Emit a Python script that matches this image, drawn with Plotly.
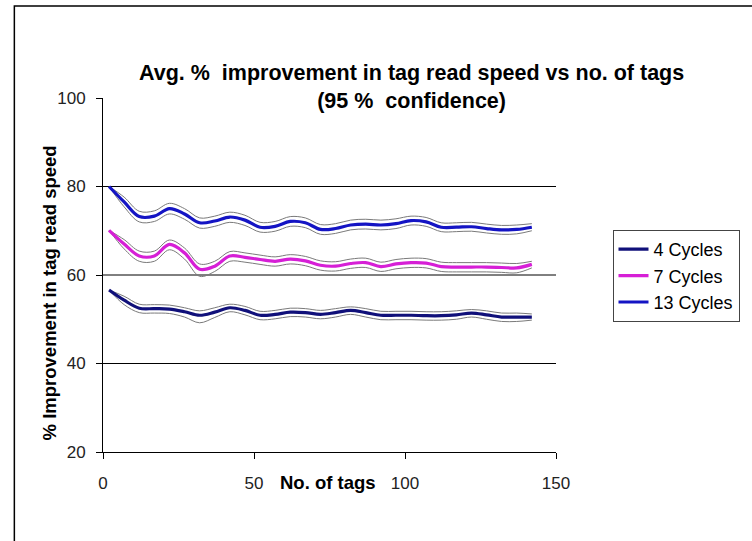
import plotly.graph_objects as go

# ---- data ----
tags = [2, 7, 12, 17, 22, 27, 32, 37, 42, 47, 52, 57, 62, 67, 72, 77, 82, 87, 92, 97,
        102, 107, 112, 117, 122, 127, 132, 137, 142]

c4 = [56.6, 54.3, 52.5, 52.4, 52.3, 51.7, 50.9, 51.6, 52.6, 52.0, 50.9, 51.1, 51.6, 51.5,
      51.1, 51.5, 52.0, 51.5, 50.9, 50.9, 50.9, 50.8, 50.8, 51.0, 51.4, 51.0, 50.5, 50.5, 50.5]
c4_hi = [56.6, 55.2, 53.4, 53.3, 53.2, 52.6, 51.9, 52.6, 53.4, 52.9, 51.8, 52.0, 52.5, 52.4,
         52.0, 52.4, 52.8, 52.4, 51.8, 51.8, 51.8, 51.7, 51.7, 51.9, 52.2, 51.9, 51.4, 51.4, 51.2]
c4_lo = [56.6, 53.3, 51.5, 51.4, 51.3, 50.5, 49.2, 50.4, 51.7, 51.0, 49.9, 50.1, 50.6, 50.5,
         50.1, 50.5, 51.1, 50.5, 49.9, 49.9, 49.9, 49.8, 49.8, 50.0, 50.5, 50.0, 49.5, 49.5, 49.8]

c7 = [70.1, 67.0, 64.3, 64.3, 66.9, 65.0, 61.3, 62.0, 64.3, 64.0, 63.5, 63.1, 63.6, 63.2,
      62.2, 62.0, 62.6, 62.8, 61.9, 62.5, 62.8, 62.7, 61.9, 61.8, 61.8, 61.8, 61.7, 61.6, 62.4]
c7_hi = [70.1, 68.0, 65.4, 65.4, 67.9, 66.1, 62.5, 63.1, 65.3, 65.0, 64.5, 64.1, 64.6, 64.2,
         63.2, 63.0, 63.6, 63.8, 62.9, 63.5, 63.8, 63.7, 62.9, 62.8, 62.8, 62.8, 62.7, 62.6, 63.1]
c7_lo = [70.1, 65.9, 63.1, 63.1, 65.7, 63.6, 59.7, 60.8, 63.1, 62.9, 62.4, 62.0, 62.5, 62.1,
         61.1, 60.9, 61.5, 61.7, 60.8, 61.4, 61.7, 61.6, 60.8, 60.7, 60.7, 60.7, 60.6, 60.5, 61.6]

c13 = [80.0, 76.5, 73.2, 73.3, 75.0, 73.8, 71.8, 72.2, 73.1, 72.4, 70.8, 71.0, 72.1, 71.8,
       70.3, 70.5, 71.3, 71.5, 71.3, 71.6, 72.3, 72.0, 70.8, 70.8, 70.9, 70.5, 70.2, 70.3, 70.8]
c13_hi = [80.0, 77.6, 74.4, 74.5, 76.2, 75.0, 72.9, 73.3, 74.2, 73.5, 71.9, 72.1, 73.2, 72.9,
          71.4, 71.6, 72.4, 72.6, 72.4, 72.7, 73.3, 73.0, 71.8, 71.8, 71.9, 71.5, 71.2, 71.3, 71.6]
c13_lo = [80.0, 75.4, 72.0, 72.1, 73.8, 72.6, 70.6, 71.0, 71.9, 71.2, 69.7, 69.9, 71.0, 70.7,
          69.2, 69.4, 70.2, 70.4, 70.2, 70.5, 71.3, 71.0, 69.8, 69.8, 69.9, 69.5, 69.2, 69.3, 70.0]

series_names = ["4 Cycles", "7 Cycles", "13 Cycles"]
series_colors = ["#10107a", "#d61fd6", "#1414c4"]

x_ticks = [0, 50, 100, 150]
y_ticks = [20, 40, 60, 80, 100]
grid_values = [40, 60, 80]

title_line1 = "Avg. %\u00a0 improvement in tag read speed vs no. of tags"
title_line2 = "(95 %\u00a0 confidence)"
x_title = "No. of tags"
y_title = "% Improvement in tag read speed"

FONT = "Arial, Liberation Sans, sans-serif"

# ---- figure ----
W, H = 752, 541
L, R, T, B = 103, 568, 98, 452

fig = go.Figure()

mains = [c4, c7, c13]
his = [c4_hi, c7_hi, c13_hi]
los = [c4_lo, c7_lo, c13_lo]

for name, col, m, hi, lo in zip(series_names, series_colors, mains, his, los):
    for band in (hi, lo):
        fig.add_trace(go.Scatter(
            x=tags, y=band, mode="lines", showlegend=False, hoverinfo="skip",
            line=dict(color="#7a7a7a", width=1, shape="spline", smoothing=1.0)))
    fig.add_trace(go.Scatter(
        x=tags, y=m, mode="lines", name=name,
        line=dict(color=col, width=3.2, shape="spline", smoothing=1.0)))

for g in grid_values:
    fig.add_shape(type="line", xref="paper", yref="y", x0=0, x1=1, y0=g, y1=g,
                  line=dict(color="black", width=1), layer="below")

# outer chart border (left/top visible only)
pw, ph = R - L, B - T
fig.add_shape(type="rect", xref="paper", yref="paper",
              x0=(12 - L) / pw, x1=(W + 20 - L) / pw,
              y0=(B - (H + 20)) / ph, y1=(B - 6) / ph,
              line=dict(color="black", width=1.5), layer="below")

fig.add_annotation(text="<b>" + title_line1 + "<br>" + title_line2 + "</b>",
                   xref="paper", yref="paper",
                   x=(420 - L) / pw, y=(B - 87) / ph,
                   xanchor="center", yanchor="middle", showarrow=False,
                   font=dict(family=FONT, size=21.5, color="black"))
fig.add_annotation(text="<b>" + y_title + "</b>", textangle=-90,
                   xref="paper", yref="paper",
                   x=(48 - L) / pw, y=(B - 293) / ph,
                   xanchor="center", yanchor="middle", showarrow=False,
                   font=dict(family=FONT, size=18.5, color="black"))
fig.add_annotation(text="<b>" + x_title + "</b>",
                   xref="paper", yref="paper",
                   x=(334 - L) / pw, y=(B - 483) / ph,
                   xanchor="center", yanchor="middle", showarrow=False,
                   font=dict(family=FONT, size=18.5, color="black"))

fig.update_layout(
    width=W, height=H,
    margin=dict(l=L, r=W - R, t=T, b=H - B, pad=0),
    paper_bgcolor="white", plot_bgcolor="white",
    font=dict(family=FONT, size=17, color="#222"),
    showlegend=True,
    legend=dict(x=(626 - L) / pw, y=(B - 230) / ph, xanchor="left", yanchor="top",
                bordercolor="#444", borderwidth=1, bgcolor="white",
                font=dict(family=FONT, size=18, color="black"),
                tracegroupgap=0, itemwidth=30),
    xaxis=dict(range=[0, 150], tickvals=x_ticks, ticktext=[str(v) for v in x_ticks],
               showgrid=False, zeroline=False, showline=True, linecolor="black",
               linewidth=1, ticks="outside", ticklen=6, tickcolor="black",
               ticklabelstandoff=10, fixedrange=True),
    yaxis=dict(range=[20, 100], tickvals=y_ticks, ticktext=[str(v) for v in y_ticks],
               showgrid=False, zeroline=False, showline=True, linecolor="black",
               linewidth=1, ticks="outside", ticklen=6, tickcolor="black",
               ticklabelstandoff=7, fixedrange=True),
)

fig.write_html("out.html", config={"displayModeBar": False},
               post_script="document.body.style.margin='0';document.body.style.overflow='hidden';")
